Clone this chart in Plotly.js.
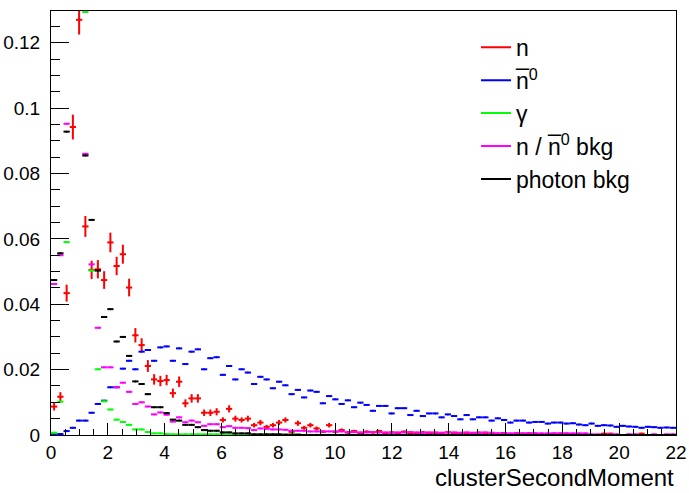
<!DOCTYPE html>
<html><head><meta charset="utf-8">
<script src="https://cdn.plot.ly/plotly-3.0.1.min.js"></script>
<style>html,body{margin:0;padding:0;background:#fff}#chart{width:689px;height:493px}</style>
</head><body><div id="chart"></div>
<script>
// Histogram binning: 100 bins on [0, 22]
const xMin = 0, xMax = 22, nBins = 100;

const seriesNames = ["n", "n\u0305<sup>0</sup>", "\u03b3", "n / n\u0305<sup>0</sup> bkg", "photon bkg"];

const nVals = [
0.0087,0.0117,0.0434,0.0942,0.1270,0.0638,0.0505,0.0507,0.0474,0.0589,
0.0517,0.0553,0.0451,0.0305,0.0275,0.0211,0.0170,0.0165,0.0168,0.0128,
0.0163,0.0097,0.0112,0.0112,0.0068,0.0068,0.0071,0.0046,0.0080,0.0050,
0.0046,0.0050,0.0030,0.0038,0.0025,0.0030,0.0038,0.0046,0.0010,0.0036,
0.0022,0.0030,0.0020,0.0010,0.0030,0.0010,0.0015,0.0008,0.0012,0.0006,
0.0010,0.0008,0.0012,0.0005,0.0008,0.0004,0.0010,0.0006,0.0004,0.0008,
0.0005,0.0006,0.0004,0.0008,0.0003,0.0006,0.0004,0.0005,0.0007,0.0003,
0.0005,0.0004,0.0006,0.0003,0.0005,0.0004,0.0005,0.0004,0.0000,0.0000,
0.0004,0.0004,0.0004,0.0000,0.0000,0.0000,0.0000,0.0000,0.0004,0.0004,
0.0000,0.0000,0.0000,0.0000,0.0004,0.0000,0.0000,0.0000,0.0000,0.0000];

const nErr = [
0.0012,0.0014,0.0026,0.0038,0.0045,0.0032,0.0028,0.0028,0.0027,0.0030,
0.0028,0.0029,0.0027,0.0022,0.0021,0.0018,0.0016,0.0016,0.0016,0.0014,
0.0016,0.0012,0.0013,0.0013,0.0010,0.0010,0.0011,0.0008,0.0011,0.0009,
0.0008,0.0009,0.0007,0.0008,0.0006,0.0007,0.0008,0.0008,0.0004,0.0008,
0.0006,0.0007,0.0006,0.0004,0.0007,0.0004,0.0005,0.0004,0.0004,0.0003,
0.0004,0.0004,0.0004,0.0003,0.0004,0.0003,0.0004,0.0003,0.0003,0.0004,
0.0003,0.0003,0.0003,0.0004,0.0002,0.0003,0.0003,0.0003,0.0003,0.0002,
0.0003,0.0003,0.0003,0.0002,0.0003,0.0003,0.0003,0.0003,0.0000,0.0000,
0.0003,0.0003,0.0003,0.0000,0.0000,0.0000,0.0000,0.0000,0.0003,0.0003,
0.0000,0.0000,0.0000,0.0000,0.0003,0.0000,0.0000,0.0000,0.0000,0.0000];

const nbar0Vals = [
0.0002,0.0003,0.0012,0.0022,0.0044,0.0044,0.0068,0.0095,0.0105,0.0146,
0.0146,0.0203,0.0227,0.0201,0.0255,0.0260,0.0227,0.0268,0.0271,0.0227,
0.0265,0.0217,0.0255,0.0262,0.0201,0.0235,0.0238,0.0184,0.0211,0.0170,
0.0201,0.0191,0.0156,0.0178,0.0170,0.0143,0.0163,0.0152,0.0125,0.0138,
0.0115,0.0136,0.0132,0.0097,0.0119,0.0109,0.0095,0.0106,0.0085,0.0099,
0.0092,0.0074,0.0089,0.0089,0.0066,0.0082,0.0082,0.0061,0.0074,0.0058,
0.0066,0.0066,0.0054,0.0063,0.0058,0.0048,0.0061,0.0048,0.0054,0.0054,
0.0044,0.0051,0.0046,0.0038,0.0044,0.0044,0.0038,0.0040,0.0040,0.0035,
0.0038,0.0038,0.0035,0.0036,0.0032,0.0030,0.0035,0.0028,0.0030,0.0029,
0.0025,0.0028,0.0026,0.0025,0.0022,0.0025,0.0024,0.0022,0.0023,0.0022];

const gammaVals = [
0.0007,0.0102,0.0590,0.1600,0.1500,0.1294,0.0503,0.0201,0.0103,0.0078,
0.0047,0.0040,0.0031,0.0017,0.0017,0.0009,0.0005,0.0005,0.0003,0.0002,
0.0002,0.0002,0.0002,0.0002,0.0002,0.0002,0.0002,0.0002,0.0002,0.0002,
0.0002,0.0002,0.0001,0.0001,0.0001,0.0001,0.0001,0.0001,0.0001,0.0001,
0,0,0,0,0,0,0,0,0,0,
0,0,0,0,0,0,0,0,0,0,
0,0,0,0,0,0,0,0,0,0,
0,0,0,0,0,0,0,0,0,0,
0,0,0,0,0,0,0,0,0,0,
0,0,0,0,0,0,0,0,0,0];

const nBkgVals = [
0.0462,0.0550,0.0952,0.1450,0.1400,0.0860,0.0522,0.0328,0.0207,0.0207,
0.0146,0.0160,0.0132,0.0095,0.0100,0.0087,0.0063,0.0069,0.0062,0.0041,
0.0054,0.0039,0.0044,0.0039,0.0028,0.0033,0.0033,0.0024,0.0027,0.0022,
0.0022,0.0021,0.0015,0.0020,0.0019,0.0017,0.0017,0.0016,0.0013,0.0013,
0.0013,0.0011,0.0011,0.0011,0.0011,0.0011,0.0011,0.0008,0.0009,0.0008,
0.0008,0.0009,0.0008,0.0008,0.0007,0.0008,0.0008,0.0009,0.0008,0.0007,
0.0008,0.0008,0.0007,0.0008,0.0008,0.0007,0.0008,0.0007,0.0007,0.0008,
0.0007,0.0005,0.0005,0.0005,0.0005,0.0005,0.0005,0.0005,0.0005,0.0005,
0.0005,0.0005,0.0005,0.0005,0.0005,0.0005,0.0002,0.0002,0.0000,0.0002,
0.0002,0.0000,0.0002,0.0002,0.0000,0.0000,0.0002,0.0000,0.0002,0.0002];

const photonBkgVals = [
0.0474,0.0556,0.0928,0.1400,0.1350,0.0855,0.0658,0.0503,0.0361,0.0385,
0.0286,0.0300,0.0242,0.0164,0.0156,0.0125,0.0085,0.0085,0.0067,0.0047,
0.0044,0.0031,0.0031,0.0024,0.0015,0.0013,0.0013,0.0008,0.0008,0.0005,
0.0005,0.0005,0.0002,0.0002,0.0002,0.0002,0.0002,0.0001,0.0001,0.0001,
0,0,0,0,0,0,0,0,0,0,
0,0,0,0,0,0,0,0,0,0,
0,0,0,0,0,0,0,0,0,0,
0,0,0,0,0,0,0,0,0,0,
0,0,0,0,0,0,0,0,0,0,
0,0,0,0,0,0,0,0,0,0];

const seriesColors = ["#ff0000", "#0000ff", "#00ff00", "#ff00ff", "#000000"];

const binW = (xMax - xMin) / nBins;
const centers = [];
for (let i = 0; i < nBins; i++) centers.push(xMin + binW * (i + 0.5));
const halfW = centers.map(() => binW / 2);

const FONT = "Liberation Sans, Arial, Helvetica, sans-serif";

function histTrace(vals, color, errs) {
  const t = {
    type: "scatter", mode: "markers", x: centers, y: vals, showlegend: false,
    marker: { color: color, size: 2 },
    error_x: { type: "data", array: halfW, visible: true, color: color, thickness: 2, width: 0 },
    cliponaxis: true, hoverinfo: "skip"
  };
  if (errs) t.error_y = { type: "data", array: errs, visible: true, color: color, thickness: 2, width: 0 };
  return t;
}

const allVals = [nVals, nbar0Vals, gammaVals, nBkgVals, photonBkgVals];
const traces = [];
allVals.forEach((v, k) => traces.push(histTrace(v, seriesColors[k], k === 0 ? nErr : null)));
// legend entries (line samples)
seriesNames.forEach((nm, k) => traces.push({
  type: "scatter", mode: "lines", x: [null], y: [null], name: nm,
  line: { color: seriesColors[k], width: 2 }, showlegend: true, hoverinfo: "skip"
}));

const layout = {
  width: 689, height: 493,
  margin: { l: 51, r: 13, t: 11, b: 58 },
  paper_bgcolor: "#fff", plot_bgcolor: "#fff",
  font: { family: FONT, color: "#000" },
  showlegend: true,
  legend: {
    x: 0.68, y: 0.965, xanchor: "left", yanchor: "top",
    bgcolor: "rgba(0,0,0,0)", borderwidth: 0,
    font: { family: FONT, size: 23, color: "#000" },
    tracegroupgap: 0
  },
  xaxis: {
    range: [xMin, xMax], dtick: 2, tick0: 0,
    ticks: "inside", ticklen: 12, tickwidth: 1, tickcolor: "#000",
    minor: { dtick: 0.5, ticks: "inside", ticklen: 6, tickwidth: 1, tickcolor: "#000", showgrid: false },
    showline: true, linecolor: "#000", linewidth: 1, mirror: true,
    showgrid: false, zeroline: false,
    tickfont: { family: FONT, size: 19, color: "#000" },
    ticklabelstandoff: 0
  },
  yaxis: {
    range: [0, 0.1297], dtick: 0.02, tick0: 0,
    ticks: "inside", ticklen: 18, tickwidth: 1, tickcolor: "#000",
    minor: { dtick: 0.005, ticks: "inside", ticklen: 9, tickwidth: 1, tickcolor: "#000", showgrid: false },
    showline: true, linecolor: "#000", linewidth: 1, mirror: true,
    showgrid: false, zeroline: false,
    tickfont: { family: FONT, size: 19, color: "#000" },
    ticklabelstandoff: 6
  },
  annotations: [{
    text: "clusterSecondMoment", xref: "paper", yref: "paper",
    x: 1, xanchor: "right", y: -0.1368, yanchor: "bottom", showarrow: false,
    font: { family: FONT, size: 24, color: "#000" }
  }]
};

Plotly.newPlot("chart", traces, layout, { staticPlot: true, displayModeBar: false });
</script>
</body></html>
